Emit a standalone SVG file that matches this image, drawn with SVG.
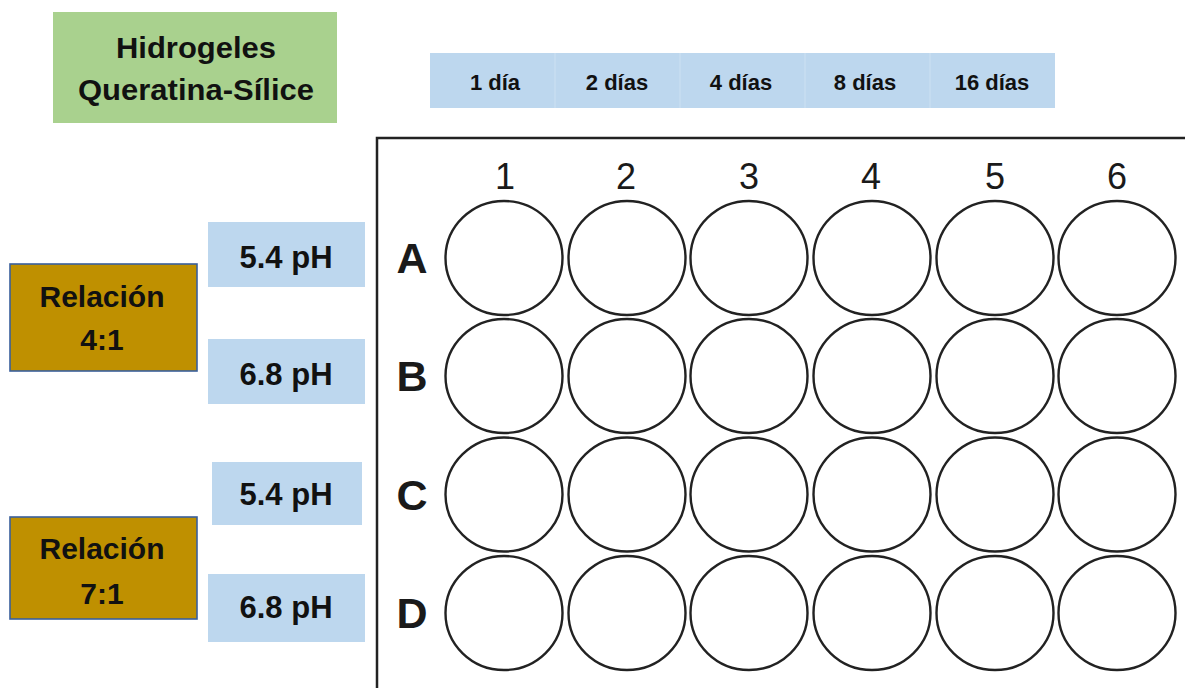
<svg xmlns="http://www.w3.org/2000/svg" width="1185" height="688" viewBox="0 0 1185 688">
<style>
.lbl{font-family:"Liberation Sans",Arial,sans-serif;font-weight:bold;fill:#111;text-anchor:middle}
.blue{fill:#bdd7ee}
.well{fill:#fff;stroke:#222;stroke-width:2.4}
.rat{fill:#bf9000;stroke:#3a5f9c;stroke-width:1.6}
.plate{font-family:"Liberation Sans",Arial,sans-serif;fill:#1a1a1a;text-anchor:middle}
</style>
<rect width="1185" height="688" fill="#fff"/>
<g id="title">
<rect x="53" y="12" width="284" height="111" fill="#a9d18e"/>
<text class="lbl" x="196" y="58" font-size="29" textLength="160" lengthAdjust="spacingAndGlyphs">Hidrogeles</text>
<text class="lbl" x="196" y="100" font-size="29" textLength="236" lengthAdjust="spacingAndGlyphs">Queratina-Sílice</text>
</g>
<g id="days">
<rect class="blue" x="430" y="53" width="625" height="55"/>
<g stroke="#c9def1" stroke-width="1.5">
<line x1="555" y1="53" x2="555" y2="108"/><line x1="680" y1="53" x2="680" y2="108"/><line x1="805" y1="53" x2="805" y2="108"/><line x1="930" y1="53" x2="930" y2="108"/>
</g>
<text class="lbl" x="495" y="90" font-size="22">1 día</text>
<text class="lbl" x="617" y="90" font-size="22">2 días</text>
<text class="lbl" x="741" y="90" font-size="22">4 días</text>
<text class="lbl" x="865" y="90" font-size="22">8 días</text>
<text class="lbl" x="992" y="90" font-size="22">16 días</text>
</g>
<g id="ratio41">
<rect class="rat" x="10" y="264" width="187" height="107"/>
<text class="lbl" x="102" y="307" font-size="30">Relación</text>
<text class="lbl" x="102" y="350" font-size="30">4:1</text>
</g>
<g id="ratio71">
<rect class="rat" x="10" y="517" width="187" height="102"/>
<text class="lbl" x="102" y="559" font-size="30">Relación</text>
<text class="lbl" x="102" y="604" font-size="30">7:1</text>
</g>
<g id="ph1"><rect class="blue" x="208" y="222" width="157" height="65"/><text class="lbl" x="286" y="268" font-size="31">5.4 pH</text></g>
<g id="ph2"><rect class="blue" x="208" y="339" width="157" height="65"/><text class="lbl" x="286" y="385" font-size="31">6.8 pH</text></g>
<g id="ph3"><rect class="blue" x="212" y="462" width="150" height="63"/><text class="lbl" x="286" y="505" font-size="31">5.4 pH</text></g>
<g id="ph4"><rect class="blue" x="208" y="574" width="157" height="68"/><text class="lbl" x="286" y="618" font-size="31">6.8 pH</text></g>
<g id="plate">
<path d="M1190,138 H377 V695" fill="none" stroke="#222" stroke-width="2.5"/>
<g class="plate" font-size="36">
<text x="505" y="189">1</text><text x="626" y="189">2</text><text x="749" y="189">3</text><text x="871" y="189">4</text><text x="995" y="189">5</text><text x="1117" y="189">6</text>
</g>
<g class="plate" font-size="43" font-weight="bold">
<text x="412" y="273">A</text><text x="412" y="391">B</text><text x="412" y="510">C</text><text x="412" y="628">D</text>
</g>
<g id="wells">
<g transform="translate(0,258)">
<ellipse class="well" cx="504" cy="0" rx="58.5" ry="57"/><ellipse class="well" cx="627" cy="0" rx="58.5" ry="57"/><ellipse class="well" cx="749" cy="0" rx="58.5" ry="57"/><ellipse class="well" cx="872" cy="0" rx="58.5" ry="57"/><ellipse class="well" cx="995" cy="0" rx="58.5" ry="57"/><ellipse class="well" cx="1117" cy="0" rx="58.5" ry="57"/>
</g>
<g transform="translate(0,376)">
<ellipse class="well" cx="504" cy="0" rx="58.5" ry="57"/><ellipse class="well" cx="627" cy="0" rx="58.5" ry="57"/><ellipse class="well" cx="749" cy="0" rx="58.5" ry="57"/><ellipse class="well" cx="872" cy="0" rx="58.5" ry="57"/><ellipse class="well" cx="995" cy="0" rx="58.5" ry="57"/><ellipse class="well" cx="1117" cy="0" rx="58.5" ry="57"/>
</g>
<g transform="translate(0,494.5)">
<ellipse class="well" cx="504" cy="0" rx="58.5" ry="57"/><ellipse class="well" cx="627" cy="0" rx="58.5" ry="57"/><ellipse class="well" cx="749" cy="0" rx="58.5" ry="57"/><ellipse class="well" cx="872" cy="0" rx="58.5" ry="57"/><ellipse class="well" cx="995" cy="0" rx="58.5" ry="57"/><ellipse class="well" cx="1117" cy="0" rx="58.5" ry="57"/>
</g>
<g transform="translate(0,613)">
<ellipse class="well" cx="504" cy="0" rx="58.5" ry="57"/><ellipse class="well" cx="627" cy="0" rx="58.5" ry="57"/><ellipse class="well" cx="749" cy="0" rx="58.5" ry="57"/><ellipse class="well" cx="872" cy="0" rx="58.5" ry="57"/><ellipse class="well" cx="995" cy="0" rx="58.5" ry="57"/><ellipse class="well" cx="1117" cy="0" rx="58.5" ry="57"/>
</g>
</g>
</g>
</svg>
